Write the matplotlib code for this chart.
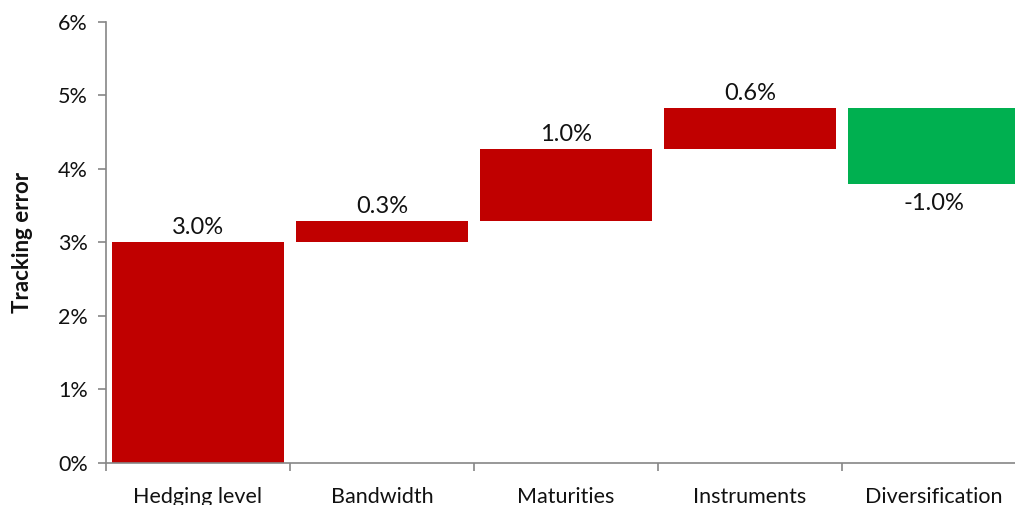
"""Tracking error waterfall: contribution of each hedging decision."""

import numpy as np
import matplotlib.pyplot as plt

plt.rcParams["font.family"] = ["Lato", "DejaVu Sans"]

# 各步骤对跟踪误差的贡献 (%)
categories = ["Hedging level", "Bandwidth", "Maturities", "Instruments", "Diversification"]
contributions = [3.0, 0.29, 0.98, 0.56, -1.03]
y_ticks = [0, 1, 2, 3, 4, 5, 6]

RED = "#C00000"
GREEN = "#00B050"
AXIS_GREY = "#868686"
TEXT = "#111111"

fig = plt.figure(figsize=(10.15, 5.05), dpi=100)
ax = fig.add_axes([0.1044, 0.0832, 0.9064, 0.8733])

vals = np.array(contributions)
ends = np.cumsum(vals)
starts = ends - vals
x = np.arange(len(categories))

bottoms = np.minimum(starts, ends)
heights = np.abs(vals)
colors = [RED if v >= 0 else GREEN for v in vals]
ax.bar(x, heights, bottom=bottoms, width=0.935, color=colors,
       edgecolor="none", zorder=2)

# 数值标签: 正值写在上方, 负值写在下方
for xi, v, e in zip(x, vals, ends):
    if v >= 0:
        ax.annotate(f"{v:.1f}%", (xi, e), xytext=(0, 3), textcoords="offset points",
                    ha="center", va="bottom", fontsize=17, color=TEXT)
    else:
        ax.annotate(f"{v:.1f}%", (xi, e), xytext=(0, -7), textcoords="offset points",
                    ha="center", va="top", fontsize=17, color=TEXT)

ax.set_xlim(-0.5, len(categories) - 0.5)
ax.set_ylim(0, 6)
ax.set_yticks(y_ticks)
ax.set_yticklabels([f"{t}%" for t in y_ticks])

# 刻度在类别边界, 标签在类别中间
ax.set_xticks(np.arange(len(categories) + 1) - 0.5)
ax.set_xticklabels([])
ax.set_xticks(x, minor=True)
ax.set_xticklabels(categories, minor=True)
ax.tick_params(axis="x", which="major", length=6, width=1.2, color=AXIS_GREY,
               direction="out")
ax.tick_params(axis="x", which="minor", length=0, pad=17, labelsize=15.5,
               labelcolor=TEXT)
ax.tick_params(axis="y", length=6, width=1.2, color=AXIS_GREY, pad=7,
               labelsize=15.5, labelcolor=TEXT)

for side in ("top", "right"):
    ax.spines[side].set_visible(False)
for side in ("left", "bottom"):
    ax.spines[side].set_color(AXIS_GREY)
    ax.spines[side].set_linewidth(1.2)

ax.set_ylabel("Tracking error", fontsize=16, fontweight="bold", labelpad=18,
              color=TEXT)

fig.savefig("out.png", dpi=100)
